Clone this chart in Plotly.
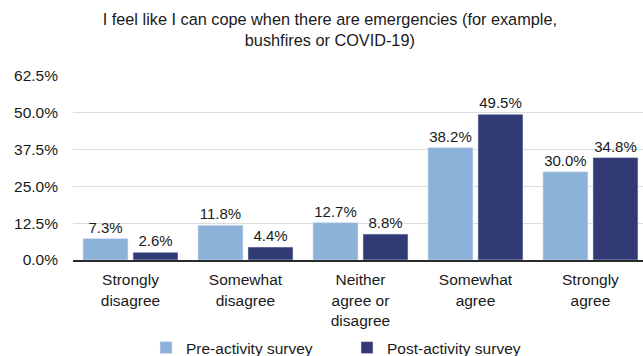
import plotly.graph_objects as go

categories = [
    "Strongly<br>disagree",
    "Somewhat<br>disagree",
    "Neither<br>agree or<br>disagree",
    "Somewhat<br>agree",
    "Strongly<br>agree",
]
pre_values = [7.3, 11.8, 12.7, 38.2, 30.0]
post_values = [2.6, 4.4, 8.8, 49.5, 34.8]
y_ticks = [0, 12.5, 25.0, 37.5, 50.0, 62.5]

FONT = "Liberation Sans, Arial, Helvetica, sans-serif"
TEXT_COLOR = "#1a1a1a"
W, H = 643, 356

fig = go.Figure()
for name, values, color in [
    ("Pre-activity survey", pre_values, "#8cb2d9"),
    ("Post-activity survey", post_values, "#323a76"),
]:
    fig.add_trace(go.Bar(
        name=name,
        x=list(range(len(categories))),
        y=values,
        marker_color=color,
        text=[f"{v:.1f}%" for v in values],
        textposition="outside",
        textfont=dict(size=15, color=TEXT_COLOR, family=FONT),
        cliponaxis=False,
    ))

fig.update_layout(
    width=W,
    height=H,
    margin=dict(l=73, r=0, t=76, b=96, autoexpand=False),
    paper_bgcolor="white",
    plot_bgcolor="white",
    font=dict(family=FONT, size=15.5, color=TEXT_COLOR),
    barmode="group",
    bargap=0.13,
    bargroupgap=0.1,
    title=dict(
        text="I feel like I can cope when there are emergencies (for example,<br>bushfires or COVID-19)",
        x=0.513,
        xanchor="center",
        xref="container",
        y=1 - 25 / H,
        yanchor="top",
        yref="container",
        font=dict(size=16.3, family=FONT, color=TEXT_COLOR),
    ),
    xaxis=dict(
        tickmode="array",
        tickvals=list(range(len(categories))),
        ticktext=categories,
        range=[-0.5, 4.457],
        showgrid=False,
        showline=True,
        linecolor="#2a2a2a",
        linewidth=1.5,
        ticks="",
        tickfont=dict(size=15.5),
        ticklabelstandoff=5,
        automargin=False,
    ),
    yaxis=dict(
        range=[0, 62.5],
        tickmode="array",
        tickvals=y_ticks,
        ticktext=[f"{v:.1f}%" for v in y_ticks],
        showgrid=True,
        gridcolor="#dcdcdc",
        gridwidth=1,
        zeroline=False,
        showline=False,
        ticks="",
        tickfont=dict(size=15.5),
        ticklabelstandoff=14,
        automargin=False,
    ),
    legend=dict(
        orientation="h",
        xref="container",
        yref="container",
        x=146 / W,
        xanchor="left",
        y=1 - 348 / H,
        yanchor="middle",
        entrywidth=156,
        font=dict(size=15.5),
        itemwidth=30,
        bgcolor="rgba(0,0,0,0)",
    ),
    showlegend=True,
)

fig.write_html("out.html")
